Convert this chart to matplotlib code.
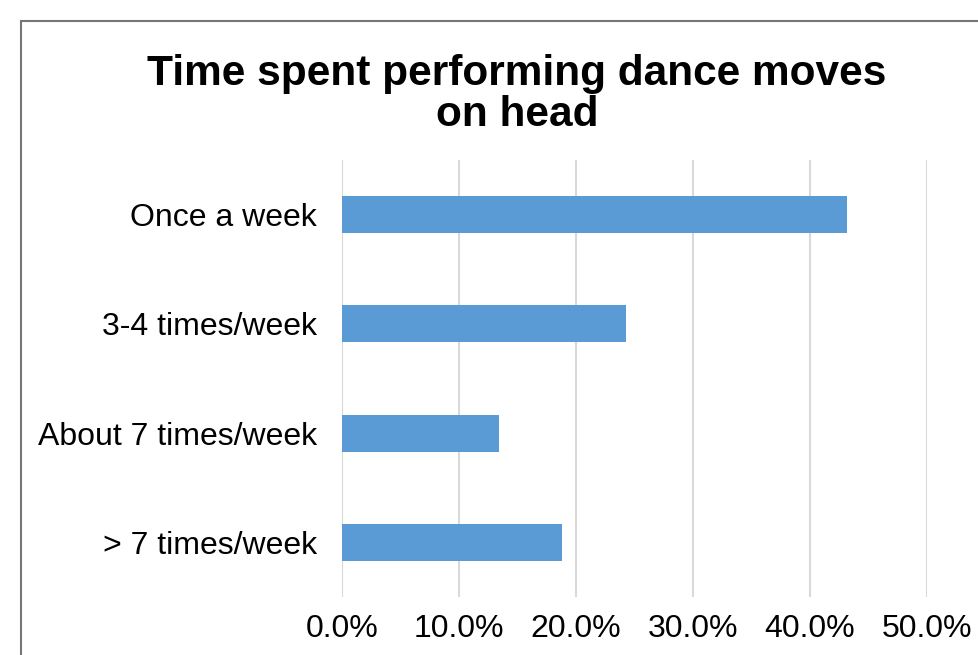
import matplotlib
matplotlib.use('Agg')
import matplotlib.pyplot as plt
from matplotlib.patches import Rectangle
from matplotlib.ticker import FuncFormatter

plt.rcParams['font.family'] = ['Liberation Sans', 'DejaVu Sans']

categories = ['Once a week', '3-4 times/week', 'About 7 times/week', '> 7 times/week']
shares = [43.2, 24.3, 13.4, 18.8]
xticks = [0, 10, 20, 30, 40, 50]

W, H = 979, 655
fig = plt.figure(figsize=(W / 100, H / 100), dpi=100)

# chart frame (cut off at right and bottom like the screenshot)
fig.patches.append(Rectangle((21 / W, -0.1), 1.2, 1 - 21 / H + 0.1,
                             transform=fig.transFigure, fill=False,
                             edgecolor='#767676', linewidth=1.5))

ax = fig.add_axes([342 / W, 1 - 597 / H, (927 - 342) / W, (597 - 160) / H])

ypos = list(range(len(categories)))[::-1]
ax.barh(ypos, shares, height=0.34, color='#5b9bd5', zorder=2)

ax.set_xlim(0, 50)
ax.set_ylim(-0.5, len(categories) - 0.5)
ax.set_xticks(xticks)
ax.xaxis.set_major_formatter(FuncFormatter(lambda v, p: f'{v:.1f}%'))
ax.set_yticks(ypos)
ax.set_yticklabels(categories)
ax.tick_params(axis='both', length=0, labelsize=23)
ax.tick_params(axis='y', pad=18)
ax.tick_params(axis='x', pad=12)
ax.grid(axis='x', color='#d9d9d9', linewidth=1.5, zorder=0)
for s in ax.spines.values():
    s.set_visible(False)

fig.text(517 / W, 1 - 54 / H, 'Time spent performing dance moves\non head',
         ha='center', va='top', fontsize=30.5, fontweight='bold',
         linespacing=1.03)

fig.savefig('out.png', dpi=100)
